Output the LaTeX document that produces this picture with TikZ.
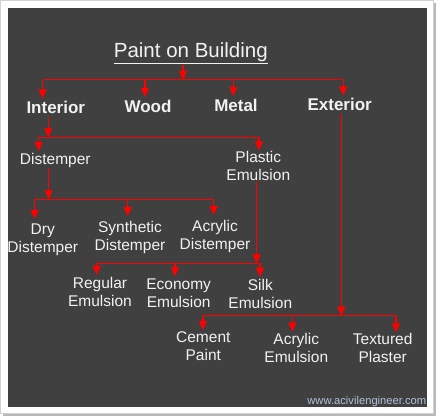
\documentclass[tikz,border=0pt]{standalone}
\usepackage{fontspec}
\setmainfont{Liberation Sans}
\usetikzlibrary{arrows.meta}
\definecolor{board}{RGB}{64,64,64}
\definecolor{chalk}{RGB}{242,242,242}
\definecolor{webblue}{RGB}{178,194,216}

\begin{document}
\begin{tikzpicture}[x=1pt,y=-1pt,
  arr/.style={red,line width=1.2pt,-{Triangle[length=9pt,width=8pt]}},
  bus/.style={red,line width=1pt},
  head/.style={text=chalk,font=\fontsize{17}{20}\selectfont\bfseries,anchor=base,inner sep=3pt},
  item/.style={text=chalk,font=\fontsize{15.5}{18}\selectfont,align=center,anchor=north,inner sep=0pt}]
\useasboundingbox (0,0) rectangle (440,420);

% Frame and board
\fill[gray!55] (3,3) rectangle (436,416);
\filldraw[fill=white,draw=gray!35] (0.5,0.5) rectangle (433,413);
\fill[board] (8,8) rectangle (427,407);

% Title
\node[text=chalk,font=\fontsize{20.5}{23}\selectfont,anchor=base,inner sep=1pt] (title) at (190.8,57.5) {\underline{Paint on Building}};

% First level
\node[head] (interior) at (55.8,114) {Interior};
\node[head] (wood) at (148,112.5) {Wood};
\node[head] (metal) at (236,111.5) {Metal};
\node[head] (exterior) at (339.7,111) {Exterior};

\coordinate (b0) at (183,80);
\coordinate (bI) at (42.5,80);
\coordinate (bW) at (145,80);
\coordinate (bM) at (233.3,80);
\coordinate (bE) at (343.3,80);
\draw[arr] (b0 |- title.south) -- (b0);
\draw[bus] (bI) -- (bE);
\foreach \c/\n in {bI/interior,bW/wood,bM/metal,bE/exterior}
  \draw[arr] (\c) -- (\c |- \n.north);

% Interior paints
\node[item,anchor=base] (distemper) at (55.3,164.5) {Distemper};
\node[item] (plastic) at (258.3,151.4) {Plastic\\Emulsion};

\coordinate (b1) at (48.3,137.3);
\coordinate (bD) at (38.7,137.3);
\coordinate (bP) at (259,137.3);
\draw[arr] (b1 |- interior.south) -- (b1);
\draw[bus] (bD) -- (bP);
\draw[arr,shorten >=2pt] (bD) -- (bD |- distemper.north);
\draw[arr,shorten >=1pt] (bP) -- (bP |- plastic.north);

% Distempers
\node[item] (dry) at (42.8,224) {Dry\\Distemper};
\node[item] (synthetic) at (130,221) {Synthetic\\Distemper};
\node[item] (acrylicd) at (215,220) {Acrylic\\Distemper};

\coordinate (b2) at (48.7,199.3);
\coordinate (bDr) at (34.7,199.3);
\coordinate (bSy) at (127.7,199.3);
\coordinate (bAc) at (213.7,199.3);
\draw[arr] (b2 |- distemper.south) -- (b2);
\draw[bus] (bDr) -- (bAc);
\foreach \c/\n in {bDr/dry,bSy/synthetic,bAc/acrylicd}
  \draw[arr] (\c) -- ([yshift=5pt]\c |- \n.north);

% Emulsions
\node[item] (regular) at (100,276.7) {Regular\\Emulsion};
\node[item] (economy) at (178.7,278.3) {Economy\\Emulsion};
\node[item] (silk) at (260.3,278.7) {Silk\\Emulsion};

\coordinate (b3) at (256.7,263.3);
\coordinate (bRe) at (96.7,263.3);
\coordinate (bEc) at (175,263.3);
\coordinate (bSi) at (260,263.3);
\draw[arr] (b3 |- plastic.south) -- (b3);
\draw[bus] (bRe) -- (bSi);
\foreach \c/\n in {bRe/regular,bEc/economy,bSi/silk}
  \draw[arr,shorten >=2pt] (\c) -- (\c |- \n.north);

% Exterior paints
\node[item] (cement) at (203.3,331) {Cement\\Paint};
\node[item] (acrylice) at (296.3,332.7) {Acrylic\\Emulsion};
\node[item] (textured) at (382.7,333.3) {Textured\\Plaster};

\coordinate (b4) at (341.3,315.7);
\coordinate (bCe) at (203,315.7);
\coordinate (bAe) at (292.3,315.7);
\coordinate (bTe) at (396,315.7);
\draw[arr] (b4 |- exterior.south) -- (b4);
\draw[bus] (bCe) -- (bTe);
\foreach \c/\n in {bCe/cement,bAe/acrylice,bTe/textured}
  \draw[arr,shorten >=1pt] (\c) -- (\c |- \n.north);

% Web address
\node[text=webblue,font=\fontsize{11.2}{13}\selectfont,anchor=base east,inner sep=0pt] (web) at (426.5,404) {www.acivilengineer.com};
\end{tikzpicture}
\end{document}
